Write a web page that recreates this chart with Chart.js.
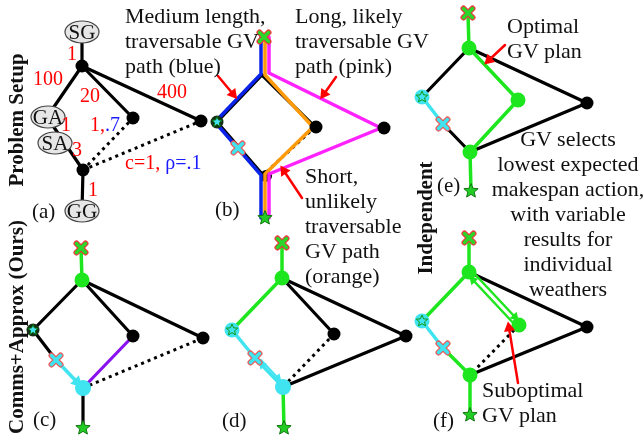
<!DOCTYPE html>
<html lang="en">
<head>
  <meta charset="UTF-8">
  <title>GV plan comparison</title>
  <script src="https://cdn.jsdelivr.net/npm/chart.js"></script>
  <style>
    body { margin: 0; background: #fff; }
    .wrap {
      position: relative;
      width: 644px;
      height: 443px;
      font-family: "Liberation Serif", "Times New Roman", serif;
      color: #111;
    }
    canvas { position: absolute; left: 0; top: 0; }
    .txt { position: absolute; font-size: 22px; line-height: 25px; white-space: nowrap; }
    .num { position: absolute; font-size: 20px; line-height: 20px; color: #f00; white-space: nowrap; }
    .blue { color: #1a1aff; }
    .lbl { position: absolute; font-size: 21px; line-height: 21px; }
    .side {
      position: absolute;
      font-size: 21px;
      font-weight: bold;
      white-space: nowrap;
      transform: translate(-50%, -50%) rotate(-90deg);
    }
    .ell { position: absolute; font-size: 21px; line-height: 21px; transform: translate(-50%, -50%); }
  </style>
</head>
<body>
  <div class="wrap" id="wrap">
    <canvas id="grafico" width="644" height="443"></canvas>

    <div class="side" style="left:16px; top:120px;">Problem Setup</div>
    <div class="side" style="left:16px; top:327px;">Comms+Approx (Ours)</div>
    <div class="side" style="left:425px; top:218px;">Independent</div>

    <div class="txt" style="left:125px; top:3px;">Medium length,<br>traversable GV<br>path (blue)</div>
    <div class="txt" style="left:295px; top:3px;">Long, likely<br>traversable GV<br>path (pink)</div>
    <div class="txt" style="left:305px; top:163px;">Short,<br>unlikely<br>traversable<br>GV path<br>(orange)</div>
    <div class="txt" style="left:507px; top:13px;">Optimal<br>GV plan</div>
    <div class="txt" style="left:478px; top:126px; width:180px; text-align:center;">GV selects<br>lowest expected<br>makespan action,<br>with variable<br>results for<br>individual<br>weathers</div>
    <div class="txt" style="left:482px; top:377px;">Suboptimal<br>GV plan</div>

    <div class="num" style="left:67px; top:43px;">1</div>
    <div class="num" style="left:33px; top:68px;">100</div>
    <div class="num" style="left:80px; top:85px;">20</div>
    <div class="num" style="left:157px; top:81px;">400</div>
    <div class="num" style="left:61px; top:114px;">1</div>
    <div class="num" style="left:90px; top:114px;">1,<span class="blue">.7</span></div>
    <div class="num" style="left:72px; top:139px;">3</div>
    <div class="num" style="left:125px; top:152px;">c=1, <span class="blue">ρ=.1</span></div>
    <div class="num" style="left:88px; top:179px;">1</div>

    <div class="lbl" style="left:32px; top:201px;">(a)</div>
    <div class="lbl" style="left:215px; top:199px;">(b)</div>
    <div class="lbl" style="left:33px; top:409px;">(c)</div>
    <div class="lbl" style="left:222px; top:410px;">(d)</div>
    <div class="lbl" style="left:437px; top:175px;">(e)</div>
    <div class="lbl" style="left:433px; top:410px;">(f)</div>
  </div>

  <script>
    // ---- panel (a): problem setup ----
    const aNodes = [[82,66],[133,118],[201,121],[83,170]];
    const aSolid = [[[82,32],[82,66]], [[82,66],[47,117]], [[82,66],[133,118]], [[82,66],[201,121]], [[47,117],[83,170]], [[83,170],[82,211]]];
    const aDotted = [[[83,170],[133,118]], [[83,170],[201,121]]];
    const aEllipses = [[82,32],[48,117],[55,143],[82,211]];
    const aEllipseNames = ['SG', 'GA', 'SA', 'GG'];

    // ---- panel (b): candidate GV paths ----
    const bBlack = [[[262,75],[217,122],[263,175]], [[262,75],[315,127]]];
    const bDotted = [[[315,127],[263,175]]];
    const bBlue = [[261,37],[261,74],[215,122],[261,175],[261,218]];
    const bOrange = [[265,37],[265,75],[313,127],[265,174],[265,218]];
    const bPink = [[269,37],[269,73],[381,128],[269,174],[269,218]];
    const bUnderNodes = [[266,176]];
    const bNodes = [[316,127],[384,128]];
    const bArrows = [[[218,76],[233,94]], [[336,77],[324,94]], [[302,198],[284,171]]];

    // ---- panel (c) ----
    const cBlack = [[[82,280],[33,330],[56,360]], [[82,280],[133,336]], [[82,280],[203,338]], [[83,388],[83,428]]];
    const cDotted = [[[83,388],[203,338]]];
    const cPurple = [[133,336],[83,388]];
    const cGreen = [[[81,248],[82,280]]];
    const cCyanArrow = [[56,360],[77,382]];

    // ---- panel (d) ----
    const dBlack = [[[282,278],[334,334]], [[282,278],[406,336],[283,387]]];
    const dDotted = [[[334,334],[283,387]]];
    const dGreen = [[[282,243],[282,278],[232,330]], [[283,387],[284,428]]];
    const dCyan = [[232,330],[255,358],[283,387]];
    const dCyanArrows = [[[261,360],[278,378]], [[279,383],[262,365]]];

    // ---- panel (e) ----
    const eBlack = [[[469,48],[422,97]], [[469,48],[587,103],[470,152]], [[443,124],[470,152]]];
    const eGreen = [[[468,13],[469,48],[518,100],[470,152],[471,191]]];
    const eCyan = [[422,97],[443,124]];
    const eArrow = [[505,45],[489,60]];

    // ---- panel (f) ----
    const fBlack = [[[469,272],[587,327],[470,375]]];
    const fDotted = [[[519,325],[470,375]]];
    const fGreen = [[[469,238],[469,272],[422,321]], [[443,348],[470,375],[470,415]]];
    const fCyan = [[422,321],[443,348]];
    const fGreenArrows = [[[471,270],[515,317]], [[517,327],[473,280]]];
    const fArrow = [[518,383],[509,328]];

    // node kinds shared by (c)-(f)
    const greenNodes = [[82,280],[282,278],[469,48],[518,100],[470,152],[469,272],[519,325],[470,375]];
    const blackNodes = [[133,336],[203,338],[334,334],[406,336],[587,103],[587,327]];
    const cyanNodes = [[83,388],[283,387]];
    const crossGreen = [[264,37],[81,248],[282,243],[468,13],[469,238]];
    const crossCyan = [[238,148],[56,360],[255,358],[443,124],[443,348]];
    const starGreen = [[265,218],[83,428],[284,428],[471,191],[470,415]];
    const cyanStarNodes = [[232,330],[422,97],[422,321]];
    const darkStarNodes = [[217,122],[33,330]];

    const GREEN = '#1ee61e';
    const CYAN = '#3fe4f0';

    function mk(size, draw) {
      const c = document.createElement('canvas');
      c.width = size; c.height = size;
      draw(c.getContext('2d'), size / 2);
      return c;
    }
    function cross(g, m, a, edge, fill) {
      g.lineCap = 'round';
      g.beginPath();
      g.moveTo(m - a, m - a); g.lineTo(m + a, m + a);
      g.moveTo(m + a, m - a); g.lineTo(m - a, m + a);
      g.strokeStyle = edge; g.lineWidth = 6; g.stroke();
      g.strokeStyle = fill; g.lineWidth = 3.5; g.stroke();
    }
    function star(g, m, r, fill, edge) {
      g.beginPath();
      for (let i = 0; i < 10; i++) {
        const rr = i % 2 === 0 ? r : r * 0.45;
        const t = -Math.PI / 2 + i * Math.PI / 5;
        g.lineTo(m + rr * Math.cos(t), m + rr * Math.sin(t));
      }
      g.closePath();
      g.fillStyle = fill; g.fill();
      g.strokeStyle = edge; g.lineWidth = 1; g.stroke();
    }
    function disc(g, m, r, fill) {
      g.beginPath(); g.arc(m, m, r, 0, Math.PI * 2); g.fillStyle = fill; g.fill();
    }

    const imgCrossGreen = mk(16, (g, m) => cross(g, m, 4.5, '#e83a3a', '#2ad62a'));
    const imgCrossCyan = mk(16, (g, m) => cross(g, m, 4.5, '#e85a5a', CYAN));
    const imgStarGreen = mk(18, (g, m) => star(g, m, 7.5, '#22cc22', '#117711'));
    const imgCyanStar = mk(18, (g, m) => { disc(g, m, 7.5, CYAN); star(g, m, 6, CYAN, '#119911'); });
    const imgDarkStar = mk(16, (g, m) => { disc(g, m, 6.5, '#143014'); star(g, m, 5.5, CYAN, '#0a6a0a'); });

    const toXY = pts => pts.map(p => ({ x: p[0], y: p[1] }));
    const layers = [];

    function line(pts, color, width, dash) {
      layers.push({
        data: toXY(pts), showLine: true, borderColor: color, borderWidth: width,
        borderDash: dash || [], borderCapStyle: dash ? 'butt' : 'round', borderJoinStyle: 'round',
        pointRadius: 0, tension: 0
      });
    }
    function dots(pts, color, r) {
      layers.push({ data: toXY(pts), showLine: false, pointStyle: 'circle', pointRadius: r,
        pointBackgroundColor: color, pointBorderWidth: 0 });
    }
    function marks(pts, img) {
      layers.push({ data: toXY(pts), showLine: false, pointStyle: img, pointRadius: 6 });
    }
    function arrow(pts, color, width, head) {
      const n = pts.length;
      const dx = pts[n - 1][0] - pts[n - 2][0];
      const dy = pts[n - 1][1] - pts[n - 2][1];
      const rot = Math.atan2(dx, -dy) * 180 / Math.PI;
      layers.push({
        data: toXY(pts), showLine: true, borderColor: color, borderWidth: width, borderCapStyle: 'round',
        pointStyle: 'triangle', pointRadius: pts.map((p, i) => i === n - 1 ? head : 0),
        pointRotation: rot, pointBackgroundColor: color, pointBorderColor: color, pointBorderWidth: 0
      });
    }

    const BW = 3.2;
    const DOT = [3, 4];

    // black graph edges
    [aSolid, bBlack, cBlack, dBlack, eBlack, fBlack].forEach(set => set.forEach(p => line(p, '#000', BW)));
    [aDotted, bDotted, cDotted, dDotted, fDotted].forEach(set => set.forEach(p => line(p, '#000', 3, DOT)));
    dots(bUnderNodes, '#000', 6);

    // coloured paths
    line(bBlue, '#0b22e8', 3.5);
    line(bOrange, '#ff9a0a', 3.5);
    line(bPink, '#ff22ff', 3.5);
    line(cPurple, '#8a12ee', 3.2);
    [cGreen, dGreen, eGreen, fGreen].forEach(set => set.forEach(p => line(p, GREEN, 3.5)));
    line(dCyan, CYAN, 3.5);
    line(eCyan, CYAN, 3.5);
    line(fCyan, CYAN, 3.5);
    arrow(cCyanArrow, CYAN, 3.5, 7);
    dCyanArrows.forEach(p => arrow(p, CYAN, 2, 5));
    fGreenArrows.forEach(p => arrow(p, GREEN, 2.5, 5.5));

    // nodes
    dots(aNodes, '#000', 6.5);
    dots(bNodes, '#000', 6.5);
    dots(blackNodes, '#000', 6.5);
    dots(greenNodes, GREEN, 7.5);
    dots(cyanNodes, CYAN, 8);

    // markers
    marks(darkStarNodes, imgDarkStar);
    marks(cyanStarNodes, imgCyanStar);
    marks(crossCyan, imgCrossCyan);
    marks(crossGreen, imgCrossGreen);
    marks(starGreen, imgStarGreen);

    // red callout arrows
    bArrows.forEach(p => arrow(p, '#ff0000', 2.5, 6.5));
    arrow(eArrow, '#ff0000', 2.5, 6.5);
    arrow(fArrow, '#ff0000', 2.5, 6.5);

    const datasets = layers.map((d, i) => Object.assign(d, { order: layers.length - i }));

    const ellipsePlugin = {
      id: 'ellipses',
      afterDatasetsDraw(chart) {
        const { ctx, scales } = chart;
        ctx.save();
        aEllipses.forEach(([ex, ey]) => {
          ctx.beginPath();
          ctx.ellipse(scales.x.getPixelForValue(ex), scales.y.getPixelForValue(ey), 17, 11, 0, 0, Math.PI * 2);
          ctx.fillStyle = '#e6e6e6';
          ctx.fill();
          ctx.strokeStyle = '#444';
          ctx.lineWidth = 1.2;
          ctx.stroke();
        });
        ctx.restore();
      }
    };

    new Chart(document.getElementById('grafico').getContext('2d'), {
      type: 'scatter',
      data: { datasets: datasets },
      options: {
        responsive: false,
        animation: false,
        events: [],
        layout: { padding: 0, autoPadding: false },
        plugins: { legend: { display: false }, tooltip: { enabled: false } },
        scales: {
          x: { type: 'linear', min: 0, max: 644, display: false },
          y: { type: 'linear', min: 0, max: 443, reverse: true, display: false }
        }
      },
      plugins: [ellipsePlugin]
    });

    // node names inside the ellipses of panel (a)
    const wrap = document.getElementById('wrap');
    aEllipses.forEach(([ex, ey], i) => {
      const d = document.createElement('div');
      d.className = 'ell';
      d.style.left = ex + 'px';
      d.style.top = ey + 'px';
      d.textContent = aEllipseNames[i];
      wrap.appendChild(d);
    });
  </script>
</body>
</html>
